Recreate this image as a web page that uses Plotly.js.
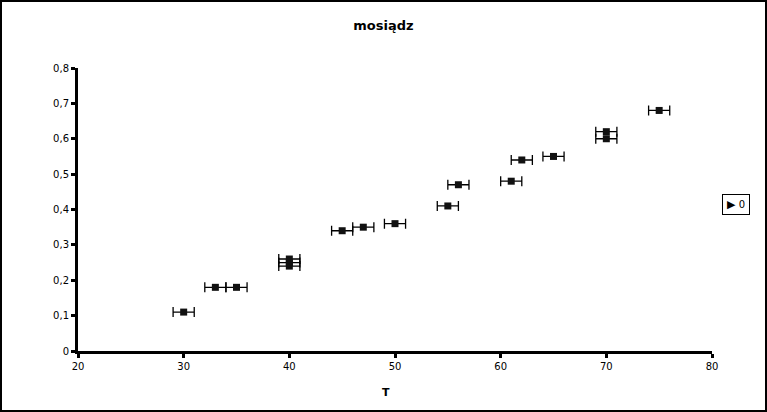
<!DOCTYPE html>
<html><head><meta charset="utf-8">
<script src="https://cdn.plot.ly/plotly-3.0.1.min.js"></script>
<style>body{margin:0;}#wrap{position:relative;width:767px;height:412px;}#frame{position:absolute;left:0;top:0;width:767px;height:412px;box-sizing:border-box;border:2px solid #000;pointer-events:none;}</style>
</head><body>
<div id="wrap"><div id="chart" style="width:767px;height:412px;"></div><div id="frame"></div></div>
<script>
const T = [30, 33, 35, 40, 40, 40, 45, 47, 50, 55, 56, 61, 62, 65, 70, 70, 75];
const values = [0.11, 0.18, 0.18, 0.24, 0.25, 0.26, 0.34, 0.35, 0.36, 0.41, 0.47, 0.48, 0.54, 0.55, 0.60, 0.62, 0.68];
const xErr = [1, 1, 1, 1, 1, 1, 1, 1, 1, 1, 1, 1, 1, 1, 1, 1, 1];
const seriesName = '0';
const xTitle = 'T';
const yTicks = [0, 0.1, 0.2, 0.3, 0.4, 0.5, 0.6, 0.7, 0.8];
const yTickLabels = ['0', '0,1', '0,2', '0,3', '0,4', '0,5', '0,6', '0,7', '0,8'];
const xTicks = [20, 30, 40, 50, 60, 70, 80];

const traces = [
  {x: T, y: values, type: 'scatter', mode: 'markers', name: seriesName, showlegend: false,
   marker: {symbol: 'square', size: 7, color: '#111'},
   error_x: {type: 'data', array: xErr, visible: true, color: '#000', thickness: 1.3, width: 5}}
];
const layout = {
  width: 767, height: 412,
  margin: {l: 78, r: 55, t: 68, b: 61},
  paper_bgcolor: '#fff', plot_bgcolor: '#fff',
  font: {family: 'DejaVu Sans, sans-serif', size: 10, color: '#000'},
  title: {text: '<b>mosiądz</b>', font: {size: 13, family: 'DejaVu Sans, sans-serif'}, x: 0.5, xanchor: 'center', y: 0.939, yanchor: 'middle'},
  xaxis: {range: [20, 80], tickvals: xTicks, showgrid: false, zeroline: false,
    showline: true, linewidth: 3, linecolor: '#000', ticks: 'outside', ticklen: 4, tickwidth: 3, tickcolor: '#000'},
  yaxis: {range: [0, 0.8], tickvals: yTicks, ticktext: yTickLabels, showgrid: false, zeroline: false,
    showline: true, linewidth: 3, linecolor: '#000', ticks: 'outside', ticklen: 4, tickwidth: 3, tickcolor: '#000'},
  showlegend: false,
  annotations: [{
    text: '<span style="font-size:11px">▶</span> ' + seriesName, xref: 'paper', yref: 'paper',
    x: (735.5 - 78) / 634, y: (351 - 204.5) / 283, xanchor: 'center', yanchor: 'middle',
    showarrow: false, bordercolor: '#000', borderwidth: 1, borderpad: 2, bgcolor: '#fff',
    font: {size: 10, color: '#000'}, width: 22, height: 15
  }, {
    text: '<b>' + xTitle + '</b>', xref: 'paper', yref: 'paper',
    x: (386 - 78) / 634, y: (351 - 392) / 283, xanchor: 'center', yanchor: 'middle',
    showarrow: false, font: {size: 11, color: '#000'}
  }]
};
Plotly.newPlot('chart', traces, layout, {displayModeBar: false, staticPlot: true});
</script>
</body></html>
